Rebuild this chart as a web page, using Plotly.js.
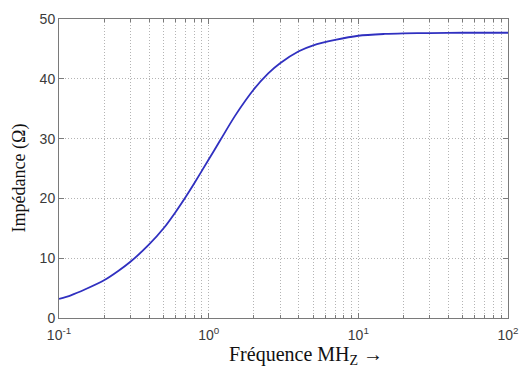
<!DOCTYPE html>
<html>
<head>
<meta charset="utf-8">
<script src="https://cdn.plot.ly/plotly-3.0.1.min.js"></script>
<style>html,body{margin:0;padding:0;background:#fff;}#chart{width:519px;height:369px;}</style>
</head>
<body>
<div id="chart"></div>
<script>
// Frequency in MHz
const frequency = [0.1, 0.12, 0.15, 0.2, 0.25, 0.3, 0.4, 0.5, 0.6, 0.7, 0.8, 1.0, 1.2, 1.5, 2, 2.5, 3, 4, 5, 7, 10, 15, 20, 30, 50, 100];
// Impedance in ohms
const impedance = [3.2, 3.8, 4.8, 6.3, 7.9, 9.4, 12.3, 15.0, 17.7, 20.2, 22.5, 26.5, 29.8, 33.8, 38.2, 40.9, 42.6, 44.6, 45.6, 46.5, 47.2, 47.5, 47.6, 47.65, 47.7, 47.7];
const xTickVals = [0.1, 1, 10, 100];
const xTickText = ['10<sup>-1</sup>', '10<sup>0</sup>', '10<sup>1</sup>', '10<sup>2</sup>'];
const yTickVals = [0, 10, 20, 30, 40, 50];

const minorVals = [];
for (let d = -1; d < 2; d++) for (let k = 2; k <= 9; k++) minorVals.push(k * Math.pow(10, d));

const gridCol = '#b4b4b4';
const axisCol = '#7a7a7a';
const tickFont = {family: 'Liberation Sans, Arial, sans-serif', size: 14, color: '#3a3a3a'};
const dotDash = '1px,2px';

Plotly.newPlot('chart', [{
  x: frequency, y: impedance, type: 'scatter', mode: 'lines',
  line: {color: '#3030c0', width: 1.8, shape: 'spline', smoothing: 0.8},
  hoverinfo: 'skip'
}], {
  width: 519, height: 369,
  margin: {l: 59, r: 11, t: 19, b: 51, pad: 0},
  paper_bgcolor: '#fff', plot_bgcolor: '#fff',
  showlegend: false,
  xaxis: {
    type: 'log', range: [-1, 2], tickmode: 'array', tickvals: xTickVals, ticktext: xTickText,
    ticks: 'inside', ticklen: 5, tickcolor: axisCol, showline: true, linecolor: axisCol, linewidth: 1,
    mirror: 'ticks', showgrid: true, gridcolor: gridCol, griddash: dotDash, gridwidth: 1,
    zeroline: false, tickfont: tickFont, ticklabelstandoff: 4,
    minor: {tickmode: 'array', tickvals: minorVals, ticks: 'inside', ticklen: 3, tickcolor: axisCol,
            showgrid: true, gridcolor: gridCol, griddash: dotDash, gridwidth: 1}
  },
  yaxis: {
    range: [0, 50], tickmode: 'array', tickvals: yTickVals,
    ticks: 'inside', ticklen: 5, tickcolor: axisCol, showline: true, linecolor: axisCol, linewidth: 1,
    mirror: 'ticks', showgrid: true, gridcolor: gridCol, griddash: dotDash, gridwidth: 1,
    zeroline: false, tickfont: tickFont
  },
  annotations: [
    {text: 'Fréquence MH<sub>Z</sub> →', xref: 'paper', yref: 'paper', x: 0.55, y: 0,
     xanchor: 'center', yanchor: 'top', yshift: -23, showarrow: false,
     font: {family: 'Liberation Serif, Times New Roman, serif', size: 20, color: '#111'}},
    {text: 'Impédance (Ω)', xref: 'paper', yref: 'paper', x: -0.087, y: 0.47,
     xanchor: 'center', yanchor: 'middle', textangle: -90, showarrow: false,
     font: {family: 'Liberation Serif, Times New Roman, serif', size: 18, color: '#111'}}
  ]
}, {staticPlot: true});
</script>
</body>
</html>
